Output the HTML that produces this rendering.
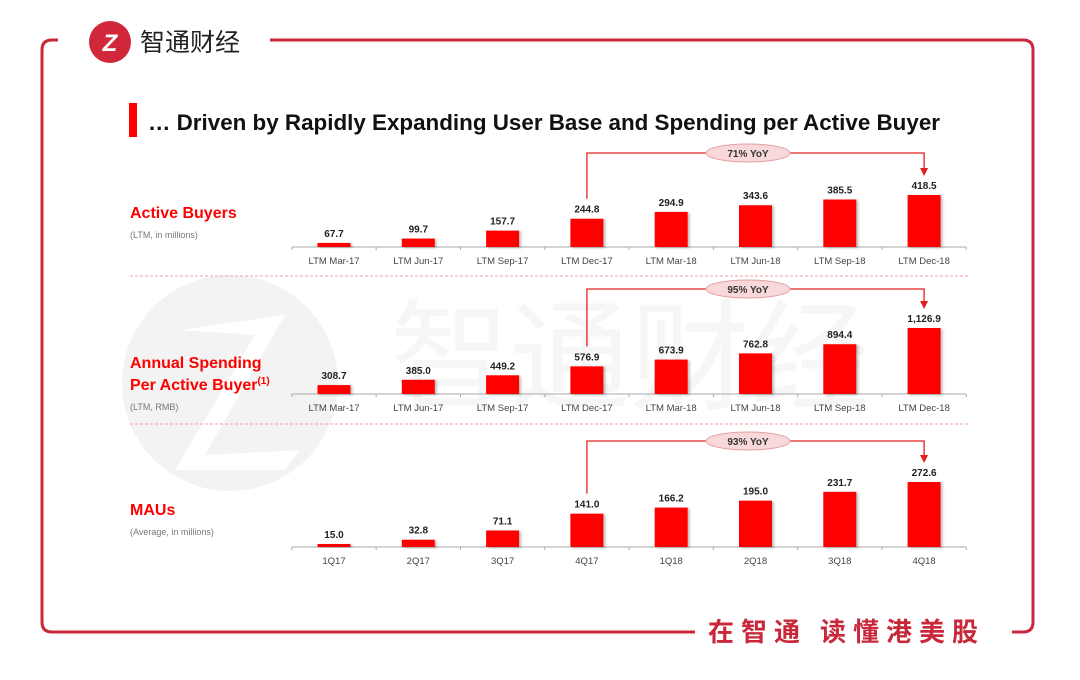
<!DOCTYPE html>
<html><head><meta charset="utf-8"><style>
html,body{margin:0;padding:0;background:#fff;}
svg{display:block;font-family:"Liberation Sans","Noto Sans CJK SC",sans-serif;}
</style></head><body>
<svg id="chart" width="1080" height="680" viewBox="0 0 1080 680">
  <defs>
    <filter id="sh" x="-20%" y="-20%" width="150%" height="150%"><feDropShadow dx="2" dy="1" stdDeviation="1.2" flood-color="#000" flood-opacity="0.25"/></filter>
  </defs>
  <g>
    <circle cx="230" cy="383" r="108" fill="#f3f3f3"/>
    <path d="M180 330 L285 315 L205 455 L300 450 L285 470 L175 470 L255 335 Z" fill="#fff"/>
    <text x="390" y="400" font-size="120" fill="#f6f6f6" font-family="Noto Sans CJK SC,sans-serif">智通财经</text>
  </g>
  <path d="M58 40 L52 40 Q42 40 42 50 L42 622 Q42 632 52 632 L695 632 M1012 632 L1023 632 Q1033 632 1033 622 L1033 50 Q1033 40 1023 40 L270 40" fill="none" stroke="#c8283a" stroke-width="3"/>
  <g>
    <circle cx="110" cy="42" r="21" fill="#d0283a"/>
    <text x="110" y="51" font-size="24" font-weight="bold" fill="#fff" text-anchor="middle" font-style="italic">Z</text>
    <text x="140" y="51" font-size="25" fill="#222" font-family="Noto Sans CJK SC,sans-serif">智通财经</text>
  </g>
  <text x="708" y="641" font-size="26" font-weight="bold" fill="#c8283a" font-family="Noto Sans CJK SC,sans-serif" textLength="270">在智通 读懂港美股</text>
  <rect x="129" y="103" width="8" height="34" fill="#f00"/>
  <text x="148" y="130" font-size="22" font-weight="bold" fill="#111" textLength="792" lengthAdjust="spacingAndGlyphs">… Driven by Rapidly Expanding User Base and Spending per Active Buyer</text>
  <text x="130" y="218" font-size="16" font-weight="bold" fill="#f00">Active Buyers</text>
  <text x="130" y="238" font-size="9" fill="#777">(LTM, in millions)</text>
  <text x="130" y="368" font-size="16" font-weight="bold" fill="#f00">Annual Spending</text>
  <text x="130" y="390" font-size="16" font-weight="bold" fill="#f00">Per Active Buyer<tspan font-size="10" dy="-6">(1)</tspan></text>
  <text x="130" y="410" font-size="9" fill="#777">(LTM, RMB)</text>
  <text x="130" y="515" font-size="16" font-weight="bold" fill="#f00">MAUs</text>
  <text x="130" y="535" font-size="9" fill="#777">(Average, in millions)</text>
  <line x1="130" y1="276" x2="970" y2="276" stroke="#f3a0a0" stroke-dasharray="3,2"/>
  <line x1="130" y1="424" x2="970" y2="424" stroke="#f3a0a0" stroke-dasharray="3,2"/>
  <g id="plots"></g>
</svg>
<script>
const ltmCats = ["LTM Mar-17","LTM Jun-17","LTM Sep-17","LTM Dec-17","LTM Mar-18","LTM Jun-18","LTM Sep-18","LTM Dec-18"];
const qCats = ["1Q17","2Q17","3Q17","4Q17","1Q18","2Q18","3Q18","4Q18"];
const buyersValues = [67.7,99.7,157.7,244.8,294.9,343.6,385.5,418.5];
const spendingValues = [308.7,385.0,449.2,576.9,673.9,762.8,894.4,1126.9];
const mauValues = [15.0,32.8,71.1,141.0,166.2,195.0,231.7,272.6];
const buyersLabels = ["67.7","99.7","157.7","244.8","294.9","343.6","385.5","418.5"];
const spendingLabels = ["308.7","385.0","449.2","576.9","673.9","762.8","894.4","1,126.9"];
const mauLabels = ["15.0","32.8","71.1","141.0","166.2","195.0","231.7","272.6"];
const yoyLabels = ["71% YoY","95% YoY","93% YoY"];

const NS="http://www.w3.org/2000/svg";
const root=document.getElementById('plots');
function mk(tag,attrs,parent){const e=document.createElementNS(NS,tag);for(const k in attrs)e.setAttribute(k,attrs[k]);(parent||root).appendChild(e);return e;}
const x0=334, step=84.3, bw=33;
function xPos(i){return x0+i*step;}

const panels=[
 {name:'buyers',cats:ltmCats,vals:buyersValues,labels:buyersLabels,base:247,vmin:38,vmax:418.5,hmax:52,bTop:153,yoy:yoyLabels[0]},
 {name:'spending',cats:ltmCats,vals:spendingValues,labels:spendingLabels,base:394,vmin:181,vmax:1126.9,hmax:66,bTop:289,yoy:yoyLabels[1]},
 {name:'maus',cats:qCats,vals:mauValues,labels:mauLabels,base:547,vmin:2.5,vmax:272.6,hmax:65,bTop:441,yoy:yoyLabels[2]}
];
panels.forEach(p=>{
  const g=mk('g',{});
  
  
  const h=v=>Math.max(2,(v-p.vmin)/(p.vmax-p.vmin)*p.hmax);
  const ax=mk('line',{x1:292,y1:p.base,x2:966,y2:p.base,stroke:'#aaa','stroke-width':1},g);
  
  
  for(let i=0;i<=p.cats.length;i++){
    const tx=xPos(i)-step/2;
    const t=mk('line',{x1:tx,y1:p.base,x2:tx,y2:p.base+3,stroke:'#aaa'},g);
    
    
  }
  p.vals.forEach((v,i)=>{
    const hh=h(v);
    const r=mk('rect',{x:xPos(i)-bw/2,y:p.base-hh,width:bw,height:hh,fill:'#f00',filter:'url(#sh)'},g);
    
    
    const vl=mk('text',{x:xPos(i),y:p.base-hh-6,'font-size':10,'font-weight':'bold',fill:'#222','text-anchor':'middle'},g);
    vl.textContent=p.labels[i];
    
    
    const cl=mk('text',{x:xPos(i),y:p.base+17,'font-size':9.5,fill:'#444','text-anchor':'middle'},g);
    cl.textContent=p.cats[i];
    
    
  });
  const lx=xPos(3), rx=xPos(7);
  const lTop=p.base-h(p.vals[3])-20;
  const tip=p.base-h(p.vals[7])-19;
  const br=mk('path',{d:`M${lx} ${lTop} L${lx} ${p.bTop} L${rx} ${p.bTop} L${rx} ${tip-7}`,fill:'none',stroke:'#e02020','stroke-width':1.3},g);
  
  
  const ah=mk('path',{d:`M${rx-4} ${tip-8} L${rx+4} ${tip-8} L${rx} ${tip} Z`,fill:'#e02020'},g);
  
  
  const pill=mk('ellipse',{cx:748,cy:p.bTop,rx:42,ry:9,fill:'#f8d8d8',stroke:'#e6a0a0'},g);
  
  
  const pt=mk('text',{x:748,y:p.bTop+4,'font-size':10,'font-weight':'bold',fill:'#333','text-anchor':'middle'},g);
  pt.textContent=p.yoy;
  
  
});
</script>
</body></html>
